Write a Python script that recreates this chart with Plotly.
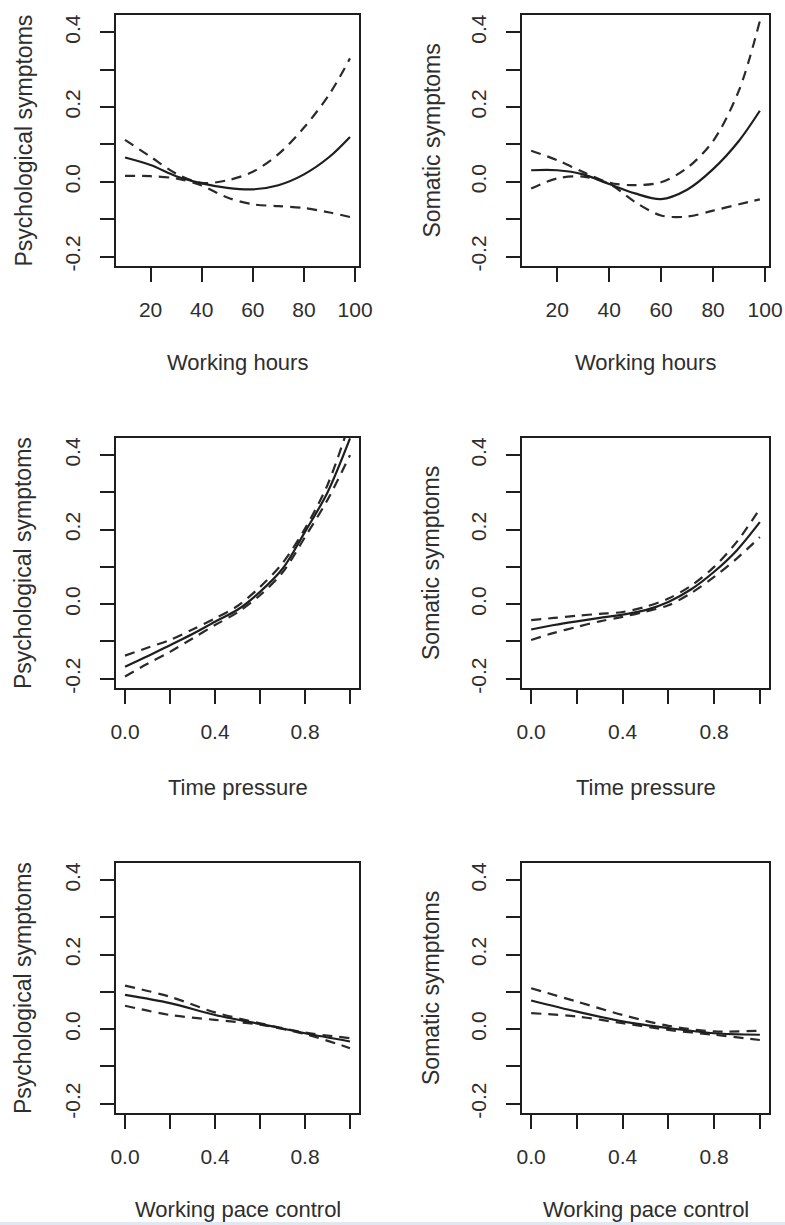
import plotly.graph_objects as go

# ---------------- data ----------------
hours = [10, 20, 30, 40, 50, 60, 70, 80, 90, 98]
pressure = [0.0, 0.1, 0.2, 0.3, 0.4, 0.5, 0.6, 0.7, 0.8, 0.9, 1.0]
pace = [0.0, 0.2, 0.4, 0.6, 0.8, 1.0]

psy_hours_fit = [0.065, 0.045, 0.015, -0.004, -0.016, -0.020, -0.009, 0.020, 0.067, 0.120]
psy_hours_upper = [0.112, 0.067, 0.022, -0.003, 0.004, 0.027, 0.074, 0.145, 0.235, 0.330]
psy_hours_lower = [0.016, 0.015, 0.009, -0.010, -0.042, -0.060, -0.065, -0.070, -0.082, -0.094]

som_hours_fit = [0.031, 0.031, 0.020, -0.006, -0.031, -0.046, -0.021, 0.034, 0.110, 0.190]
som_hours_upper = [0.083, 0.058, 0.026, -0.002, -0.009, -0.001, 0.037, 0.109, 0.245, 0.430]
som_hours_lower = [-0.018, 0.009, 0.014, -0.005, -0.054, -0.090, -0.093, -0.077, -0.060, -0.047]

psy_press_fit = [-0.168, -0.140, -0.110, -0.080, -0.047, -0.015, 0.033, 0.095, 0.194, 0.300, 0.445]
psy_press_upper = [-0.138, -0.117, -0.096, -0.068, -0.038, -0.005, 0.046, 0.110, 0.203, 0.320, 0.490]
psy_press_lower = [-0.194, -0.160, -0.128, -0.092, -0.056, -0.022, 0.024, 0.085, 0.180, 0.280, 0.400]

som_press_fit = [-0.068, -0.056, -0.046, -0.037, -0.028, -0.016, 0.006, 0.040, 0.087, 0.145, 0.220]
som_press_upper = [-0.043, -0.037, -0.031, -0.026, -0.021, -0.007, 0.015, 0.050, 0.100, 0.168, 0.256]
som_press_lower = [-0.096, -0.077, -0.061, -0.046, -0.034, -0.020, -0.003, 0.030, 0.073, 0.123, 0.180]

psy_pace_fit = [0.092, 0.070, 0.038, 0.014, -0.011, -0.033]
psy_pace_upper = [0.117, 0.087, 0.045, 0.016, -0.009, -0.024]
psy_pace_lower = [0.063, 0.038, 0.025, 0.012, -0.013, -0.051]

som_pace_fit = [0.077, 0.047, 0.021, 0.003, -0.011, -0.015]
som_pace_upper = [0.110, 0.074, 0.038, 0.009, -0.006, -0.004]
som_pace_lower = [0.043, 0.034, 0.016, -0.002, -0.015, -0.029]

hour_ticks = [20, 40, 60, 80, 100]
hour_tick_text = ["20", "40", "60", "80", "100"]
unit_ticks = [0.0, 0.2, 0.4, 0.6, 0.8, 1.0]
unit_tick_text = ["0.0", "", "0.4", "", "0.8", ""]
y_ticks = [-0.2, -0.1, 0.0, 0.1, 0.2, 0.3, 0.4]
y_tick_text = ["-0.2", "", "0.0", "", "0.2", "", "0.4"]

x_titles = ["Working hours", "Time pressure", "Working pace control"]
y_titles = ["Psychological symptoms", "Somatic symptoms"]

# ---------------- layout geometry (page pixels) ----------------
W, H = 785, 1225
col_px = [(116, 359), (522, 769)]
row_px = [(15, 266), (438, 688), (863, 1113)]
ytitle_px = [23, 431]
xtitle_py = [362, 787, 1209]


def fx(px):
    return px / W


def fy(py):
    return 1 - py / H


FONT = "Liberation Sans, Arial, Helvetica, sans-serif"
INK = "#1e1e1e"
TXT = "#2e2e2e"

panels = [
    (0, 0, hours, psy_hours_fit, psy_hours_upper, psy_hours_lower, "hours"),
    (0, 1, hours, som_hours_fit, som_hours_upper, som_hours_lower, "hours"),
    (1, 0, pressure, psy_press_fit, psy_press_upper, psy_press_lower, "unit"),
    (1, 1, pressure, som_press_fit, som_press_upper, som_press_lower, "unit"),
    (2, 0, pace, psy_pace_fit, psy_pace_upper, psy_pace_lower, "unit"),
    (2, 1, pace, som_pace_fit, som_pace_upper, som_pace_lower, "unit"),
]

fig = go.Figure()
layout = dict(
    width=W, height=H, autosize=False,
    margin=dict(l=0, r=0, t=0, b=0, pad=0),
    paper_bgcolor="white", plot_bgcolor="white",
    showlegend=False,
    font=dict(family=FONT, size=21, color=TXT),
)
annotations = []

for i, (r, c, xs, fit, up, lo, kind) in enumerate(panels, start=1):
    xa = "x" if i == 1 else f"x{i}"
    ya = "y" if i == 1 else f"y{i}"
    for vals, dash in ((up, "10px,7px"), (lo, "10px,7px"), (fit, "solid")):
        fig.add_trace(go.Scatter(
            x=xs, y=vals, mode="lines", xaxis=xa, yaxis=ya,
            line=dict(color=INK if dash == "solid" else "#2a2a2a", width=2.2,
                      dash=dash, shape="spline", smoothing=0.9),
            hoverinfo="skip", showlegend=False))
    x0, x1 = col_px[c]
    top, bot = row_px[r]
    xdom = [fx(x0), fx(x1)]
    ydom = [fy(bot), fy(top)]
    if kind == "hours":
        xr, tv, tt = [6.48, 101.52], hour_ticks, hour_tick_text
    else:
        xr, tv, tt = [-0.04, 1.04], unit_ticks, unit_tick_text
    common = dict(showline=True, mirror=True, linecolor=INK, linewidth=2,
                  ticks="outside", ticklen=14, tickwidth=2, tickcolor=INK,
                  showgrid=False, zeroline=False, fixedrange=True,
                  automargin=False,
                  tickfont=dict(family=FONT, size=21, color=TXT))
    layout["xaxis" if i == 1 else f"xaxis{i}"] = dict(
        domain=xdom, range=xr, anchor=ya, tickvals=tv, ticktext=tt,
        tickangle=0, ticklabelstandoff=10, **common)
    layout["yaxis" if i == 1 else f"yaxis{i}"] = dict(
        domain=ydom, range=[-0.225, 0.446], anchor=xa, tickvals=y_ticks,
        ticktext=y_tick_text, tickangle=-90, ticklabelstandoff=12, **common)
    # axis titles
    annotations.append(dict(
        text=x_titles[r], xref="paper", yref="paper",
        x=fx((x0 + x1) / 2), y=fy(xtitle_py[r]),
        xanchor="center", yanchor="middle", showarrow=False,
        font=dict(family=FONT, size=22, color=TXT)))
    annotations.append(dict(
        text=y_titles[c], xref="paper", yref="paper",
        x=fx(ytitle_px[c]), y=fy((top + bot) / 2), textangle=-90,
        xanchor="center", yanchor="middle", showarrow=False,
        font=dict(family=FONT, size=23, color=TXT)))

layout["annotations"] = annotations
layout["shapes"] = [dict(type="rect", xref="paper", yref="paper",
                         x0=0, x1=1, y0=0, y1=3 / H,
                         fillcolor="#e1e8f0", line=dict(width=0), layer="below")]
fig.update_layout(**layout)
fig.write_html(
    "out.html",
    config={"displayModeBar": False, "staticPlot": True},
    post_script="document.body.style.margin='0';"
                "document.documentElement.style.overflow='hidden';"
                "document.body.style.overflow='hidden';",
)
